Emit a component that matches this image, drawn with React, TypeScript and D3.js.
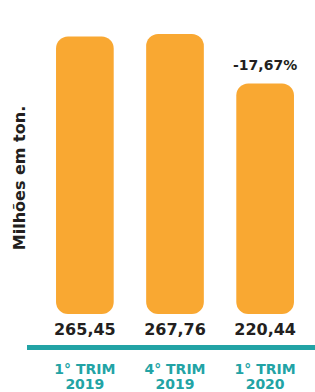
import React, { useEffect, useRef } from "react";
import * as d3 from "d3";

const width = 315;
const height = 392;

const categories = ["1° TRIM|2019", "4° TRIM|2019", "1° TRIM|2020"];
const values = [265.45, 267.76, 220.44];
const valueLabels = ["265,45", "267,76", "220,44"];
const changeLabel = "-17,67%";
const axisTitle = "Milhões em ton.";

const orange = "#F9A832";
const teal = "#22A3A5";
const dark = "#231F20";
const font = "'DejaVu Sans', sans-serif";

function App() {
  const ref = useRef<SVGSVGElement>(null);

  useEffect(() => {
    const svg = d3.select(ref.current);
    svg.selectAll("*").remove();

    const x = d3
      .scaleBand()
      .domain(categories)
      .range([38, 312])
      .paddingInner(0.36)
      .paddingOuter(0.2);

    const y = d3.scaleLinear().domain([0, 267.76]).range([314, 34]);

    svg
      .selectAll("rect.bar")
      .data(values)
      .enter()
      .append("rect")
      .attr("class", "bar")
      .attr("x", (d, i) => x(categories[i])!)
      .attr("y", (d) => y(d))
      .attr("width", x.bandwidth())
      .attr("height", (d) => y(0) - y(d))
      .attr("rx", 12)
      .attr("fill", orange);

    svg
      .selectAll("text.val")
      .data(valueLabels)
      .enter()
      .append("text")
      .attr("class", "val")
      .attr("x", (d, i) => x(categories[i])! + x.bandwidth() / 2)
      .attr("y", 335)
      .attr("text-anchor", "middle")
      .attr("font-family", font)
      .attr("font-weight", 700)
      .attr("font-size", 16)
      .attr("fill", dark)
      .text((d) => d);

    const last = categories.length - 1;
    svg
      .append("text")
      .attr("x", x(categories[last])! + x.bandwidth() / 2)
      .attr("y", y(values[last]) - 13)
      .attr("text-anchor", "middle")
      .attr("font-family", font)
      .attr("font-weight", 700)
      .attr("font-size", 14)
      .attr("fill", dark)
      .text(changeLabel);

    svg
      .append("rect")
      .attr("x", 27)
      .attr("y", 345)
      .attr("width", width - 27)
      .attr("height", 5)
      .attr("fill", teal);

    const cat = svg
      .selectAll("text.cat")
      .data(categories)
      .enter()
      .append("text")
      .attr("class", "cat")
      .attr("text-anchor", "middle")
      .attr("font-family", font)
      .attr("font-weight", 700)
      .attr("font-size", 14)
      .attr("fill", teal);

    cat.each(function (d) {
      const cx = x(d)! + x.bandwidth() / 2;
      const parts = d.split("|");
      d3.select(this)
        .selectAll("tspan")
        .data(parts)
        .enter()
        .append("tspan")
        .attr("x", cx)
        .attr("y", (p, j) => 374 + j * 15)
        .text((p) => p);
    });

    svg
      .append("text")
      .attr("transform", "translate(25,178) rotate(-90)")
      .attr("text-anchor", "middle")
      .attr("font-family", font)
      .attr("font-weight", 700)
      .attr("font-size", 16)
      .attr("fill", dark)
      .text(axisTitle);
  }, []);

  return (
    <svg
      ref={ref}
      width={width}
      height={height}
      style={{ position: "absolute", left: 0, top: 0 }}
    />
  );
}

export default App;
